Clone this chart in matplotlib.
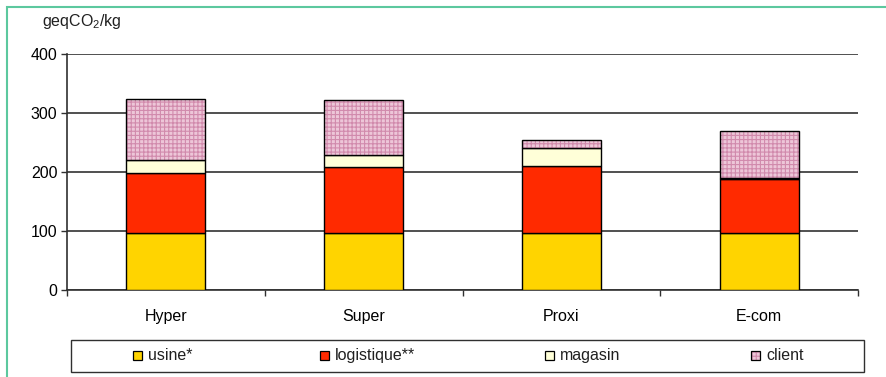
import matplotlib
matplotlib.use("Agg")
import matplotlib.pyplot as plt
from matplotlib.patches import Rectangle
import numpy as np

plt.rcParams['font.family'] = ['Liberation Sans', 'DejaVu Sans']
plt.rcParams['mathtext.fontset'] = 'custom'
plt.rcParams['mathtext.rm'] = 'Liberation Sans'
plt.rcParams['hatch.linewidth'] = 0.8

# emissions per kg, stacked by stage
categories = ['Hyper', 'Super', 'Proxi', 'E-com']
usine = [96, 96, 96, 96]
logistique = [103, 112, 115, 92]
magasin = [21, 21, 30, 2]
client = [104, 93, 14, 79]
stage_labels = ['usine*', 'logistique**', 'magasin', 'client']

c_usine = '#FFD400'
c_logi = '#FF2A00'
c_mag = '#FFFFD8'
c_client = '#EDC6D8'
c_hatch = '#D18AAC'
fs = 11.5

W, H = 886, 377
fig = plt.figure(figsize=(W / 100, H / 100), dpi=100)
ax = fig.add_axes([67 / W, 1 - 290 / H, (858 - 67) / W, (290 - 54) / H])

x = np.arange(len(categories))
bw = 0.4
kw = dict(width=bw, edgecolor='black', linewidth=1.0, zorder=3)
b1 = np.array(usine)
b2 = b1 + np.array(logistique)
b3 = b2 + np.array(magasin)
ax.bar(x, usine, color=c_usine, **kw)
ax.bar(x, logistique, bottom=b1, color=c_logi, **kw)
ax.bar(x, magasin, bottom=b2, color=c_mag, **kw)
# hatched fill first, then the black outline on top
ax.bar(x, client, bottom=b3, width=bw, color=c_client, edgecolor=c_hatch,
       hatch='++++', linewidth=0, zorder=3)
ax.bar(x, client, bottom=b3, width=bw, fill=False, edgecolor='black',
       linewidth=1.0, zorder=4)

ax.set_xlim(-0.5, len(categories) - 0.5)
ax.set_ylim(0, 400)
ax.set_yticks([0, 100, 200, 300, 400])
ax.yaxis.grid(True, color='#505050', linewidth=1.4, zorder=0)
ax.set_axisbelow(True)
ax.set_xticks(x)
ax.set_xticklabels(categories, fontsize=fs)
ax.set_xticks(np.arange(len(categories) + 1) - 0.5, minor=True)
ax.tick_params(axis='x', which='major', length=0, pad=14)
ax.tick_params(axis='x', which='minor', length=4, width=1, color='#303030')
ax.tick_params(axis='y', length=4, width=1, color='#303030', labelsize=fs, pad=3)
for s in ['top', 'right']:
    ax.spines[s].set_visible(False)
for s in ['left', 'bottom']:
    ax.spines[s].set_color('#303030')
    ax.spines[s].set_linewidth(1.2)

fig.text(42 / W, 1 - 12 / H, 'geqCO$_\\mathregular{2}$/kg', fontsize=fs,
         ha='left', va='top', color='#202020')

# legend box drawn in figure pixels
tr = fig.transFigure
fig.patches.append(Rectangle((71 / W, 1 - 372 / H), (864 - 71) / W, 32 / H,
                             transform=tr, fill=False, edgecolor='#303030',
                             linewidth=1.0))
colors = [c_usine, c_logi, c_mag, c_client]
mx = [133, 320, 545, 751]
for i, (lab, col, px) in enumerate(zip(stage_labels, colors, mx)):
    if i == 3:
        fig.patches.append(Rectangle((px / W, 1 - 360 / H), 9 / W, 9 / H,
                                     transform=tr, facecolor=col,
                                     edgecolor=c_hatch, hatch='++++',
                                     linewidth=0))
    fig.patches.append(Rectangle((px / W, 1 - 360 / H), 9 / W, 9 / H,
                                 transform=tr, facecolor=col if i < 3 else 'none',
                                 edgecolor='black', linewidth=0.9))
    fig.text((px + 15) / W, 1 - 355.5 / H, lab, fontsize=fs,
             ha='left', va='center', color='#202020')

# thin green frame around the figure
fig.patches.append(Rectangle((7 / W, -0.1), 1.0, 1.1 - 7 / H, transform=tr,
                             fill=False, edgecolor='#5CC89E', linewidth=1.5))

fig.savefig('out.png', dpi=100)
